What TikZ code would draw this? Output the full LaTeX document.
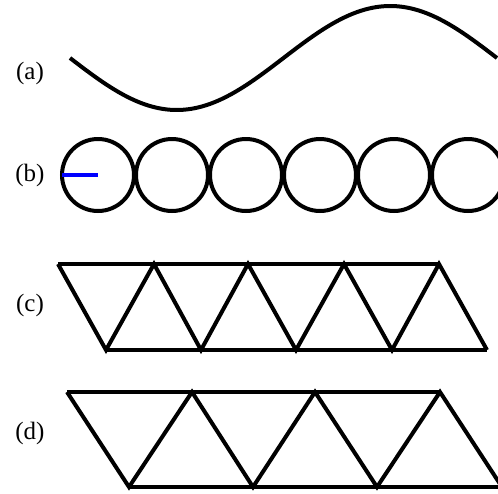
\documentclass[tikz,border=0pt]{standalone}
\usepackage{fontspec}
\setmainfont{Liberation Serif}
\begin{document}
\begin{tikzpicture}[x=1pt,y=-1pt,line width=4pt,
  tag/.style={font=\fontsize{25}{30}\selectfont}]
\useasboundingbox (0,0) rectangle (498,493);
\clip (0,0) rectangle (498,493);

% (a) one period of a sine
\node[tag] (taga) at (30,73) {(a)};
\draw plot[domain=0:360,samples=120] ({70+\x/360*427},{58+52*sin(\x)});

% (b) row of circles with a radius
\node[tag] (tagb) at (30,175) {(b)};
\draw (98,175) circle (36);
\draw (172,175) circle (36);
\draw (246,175) circle (36);
\draw (320,175) circle (36);
\draw (394,175) circle (36);
\draw (468,175) circle (36);
\draw[blue] (62,175) -- (98,175);

% (c) small triangles
\node[tag] (tagc) at (30,305) {(c)};
\draw (58,264) -- (439,264);
\draw (106,350) -- (487,350);
\draw (58,264) -- (106,350) -- (154,264) -- (201,350) -- (248,264)
  -- (296,350) -- (344,264) -- (392,350) -- (439,264) -- (487,350);

% (d) larger triangles
\node[tag] (tagd) at (30,433) {(d)};
\draw (67,392) -- (440,392);
\draw (129,487) -- (502,487);
\draw (67,392) -- (129,487) -- (192,392) -- (253,487) -- (315,392)
  -- (377,487) -- (440,392) -- (502,487);
\end{tikzpicture}
\end{document}
